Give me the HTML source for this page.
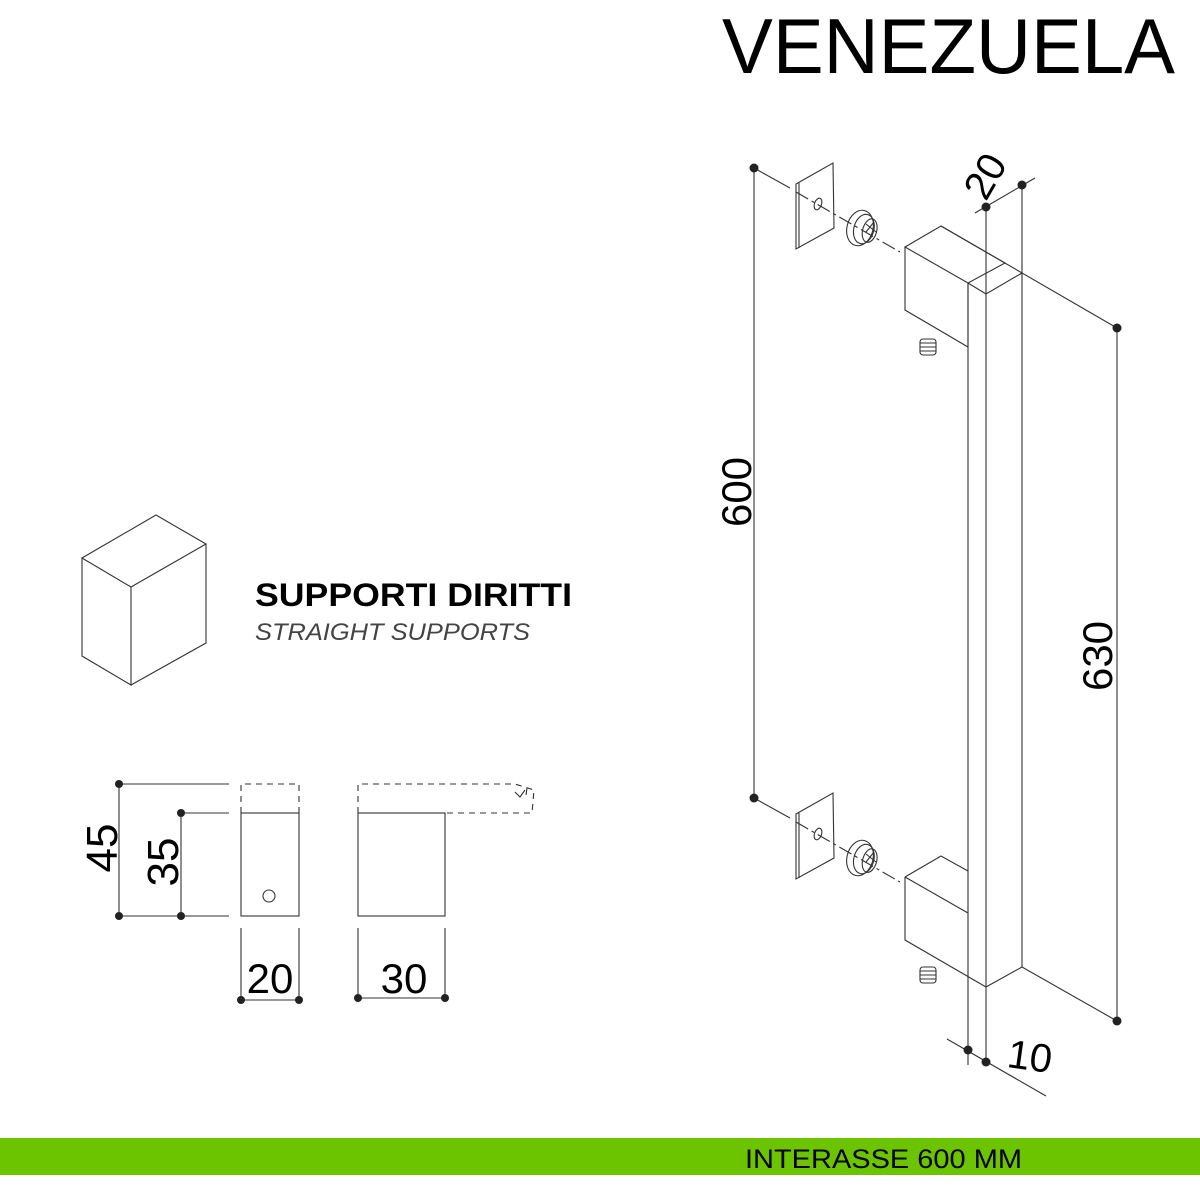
<!DOCTYPE html>
<html><head><meta charset="utf-8"><style>html,body{margin:0;padding:0;background:#fff}svg{display:block}</style></head>
<body>
<svg width="1200" height="1200" viewBox="0 0 1200 1200" xmlns="http://www.w3.org/2000/svg" font-family="Liberation Sans, sans-serif">
<rect width="1200" height="1200" fill="#fff"/>
<text x="722" y="73" font-size="78" textLength="453" lengthAdjust="spacingAndGlyphs" fill="#000">VENEZUELA</text>

<g fill="none" stroke="#333" stroke-width="1.1">
<path d="M82,558 L131,587 L131,685 L82,656 Z M82,558 L156,515 L206,544 L131,587 M206,544 L206,643 L131,685"/>

<rect x="241" y="813" width="58" height="103"/>
<path d="M241,813 V784 H299 V813" stroke-dasharray="6,5"/>
<circle cx="269" cy="896" r="6"/>
<path d="M119,784 H229 M181,813 H229 M119,916 H229 M119,784 V916 M181,813 V916"/>
<path d="M241,928 V1000 M299,928 V1000 M241,1000 H299"/>
<rect x="358" y="813" width="87" height="103"/>
<path d="M358,813 V784 H515 L534,790 L532,813 H445" stroke-dasharray="6,5"/>
<path d="M515,792 L520,797 L525,790 M527,788 L526,795" />
<path d="M358,928 V998 M445,928 V998 M358,998 H445"/>

<path d="M796,184 L833,163 L834,228 L796,249 Z M799,183 V248"/>
<ellipse cx="818" cy="204" rx="3.5" ry="6" transform="rotate(20 818 204)"/>
<path d="M754,168 L790,188"/>
<path d="M796,192 L900,252" stroke-dasharray="14,4,3,4"/>
<g transform="translate(860,228)"><ellipse cx="0" cy="0" rx="13" ry="18" transform="rotate(15)"/><ellipse cx="4" cy="0" rx="10" ry="15" transform="rotate(15)"/><ellipse cx="10" cy="0" rx="7" ry="12" transform="rotate(15)"/><path d="M6,-4 L16,4 M6,4 L14,-6"/></g>
<path d="M905,247 L941,226 L1005,263 L968,283 Z M905,247 V310 L968,347 M968,283 V347"/>
<path d="M968,283 L986,294 L1022,273 M941,226 L1117,328"/>
<rect x="920" y="339" width="16" height="16" rx="3"/>
<path d="M920,343 H936 M920,347 H936 M920,351 H936"/>

<path d="M968,283 V1065 M986,207 V1062 M1022,185 V967 M986,987 L1022,967 L1117,1021 M1117,328 V1021 M754,168 V798"/>
<path d="M975,213 L1035,178 M947,1039 L1046,1096"/>

<path d="M796,814 L833,793 L834,858 L796,879 Z M799,813 V878"/>
<ellipse cx="818" cy="834" rx="3.5" ry="6" transform="rotate(20 818 834)"/>
<path d="M754,798 L790,818"/>
<path d="M796,822 L900,882" stroke-dasharray="14,4,3,4"/>
<g transform="translate(860,858)"><ellipse cx="0" cy="0" rx="13" ry="18" transform="rotate(15)"/><ellipse cx="4" cy="0" rx="10" ry="15" transform="rotate(15)"/><ellipse cx="10" cy="0" rx="7" ry="12" transform="rotate(15)"/><path d="M6,-4 L16,4 M6,4 L14,-6"/></g>
<path d="M905,877 L941,856 L968,871 M905,877 L968,913 M905,877 V940 L986,987"/>
<rect x="920" y="967" width="16" height="16" rx="3"/>
<path d="M920,971 H936 M920,975 H936 M920,979 H936"/>
</g>

<g fill="#222">
<circle cx="119" cy="784" r="4"/><circle cx="119" cy="916" r="4"/><circle cx="181" cy="813" r="4"/><circle cx="181" cy="916" r="4"/>
<circle cx="241" cy="1000" r="4"/><circle cx="299" cy="1000" r="4"/><circle cx="358" cy="998" r="4"/><circle cx="445" cy="998" r="4"/>
<circle cx="754" cy="168" r="4.5"/><circle cx="754" cy="798" r="4.5"/><circle cx="986" cy="207" r="4.5"/><circle cx="1022" cy="185" r="4.5"/>
<circle cx="1117" cy="328" r="4.5"/><circle cx="1117" cy="1021" r="4.5"/><circle cx="968" cy="1050" r="4.5"/><circle cx="986" cy="1062" r="4.5"/>
</g>

<g fill="#000">
<text x="255" y="606" font-size="32" font-weight="bold" textLength="317" lengthAdjust="spacingAndGlyphs">SUPPORTI DIRITTI</text>
<text x="255" y="640" font-size="24" font-style="italic" fill="#444" textLength="275" lengthAdjust="spacingAndGlyphs">STRAIGHT SUPPORTS</text>
<text x="270" y="993" font-size="42" text-anchor="middle">20</text>
<text x="404" y="993" font-size="42" text-anchor="middle">30</text>
<text transform="translate(117,848) rotate(-90)" font-size="44" text-anchor="middle">45</text>
<text transform="translate(178,862) rotate(-90)" font-size="44" text-anchor="middle">35</text>
<text transform="translate(751,492) rotate(-90)" font-size="42" text-anchor="middle">600</text>
<text transform="translate(1112,656) rotate(-90)" font-size="42" text-anchor="middle">630</text>
<text transform="translate(997,183) rotate(-60)" font-size="40" text-anchor="middle">20</text>
<text transform="translate(1028,1070) rotate(8)" font-size="40" text-anchor="middle">10</text>
</g>

<rect x="0" y="1138" width="1200" height="37" fill="#6cc400"/>
<text x="745" y="1168" font-size="27" fill="#000" textLength="277" lengthAdjust="spacingAndGlyphs">INTERASSE 600 MM</text>
</svg>
</body></html>
